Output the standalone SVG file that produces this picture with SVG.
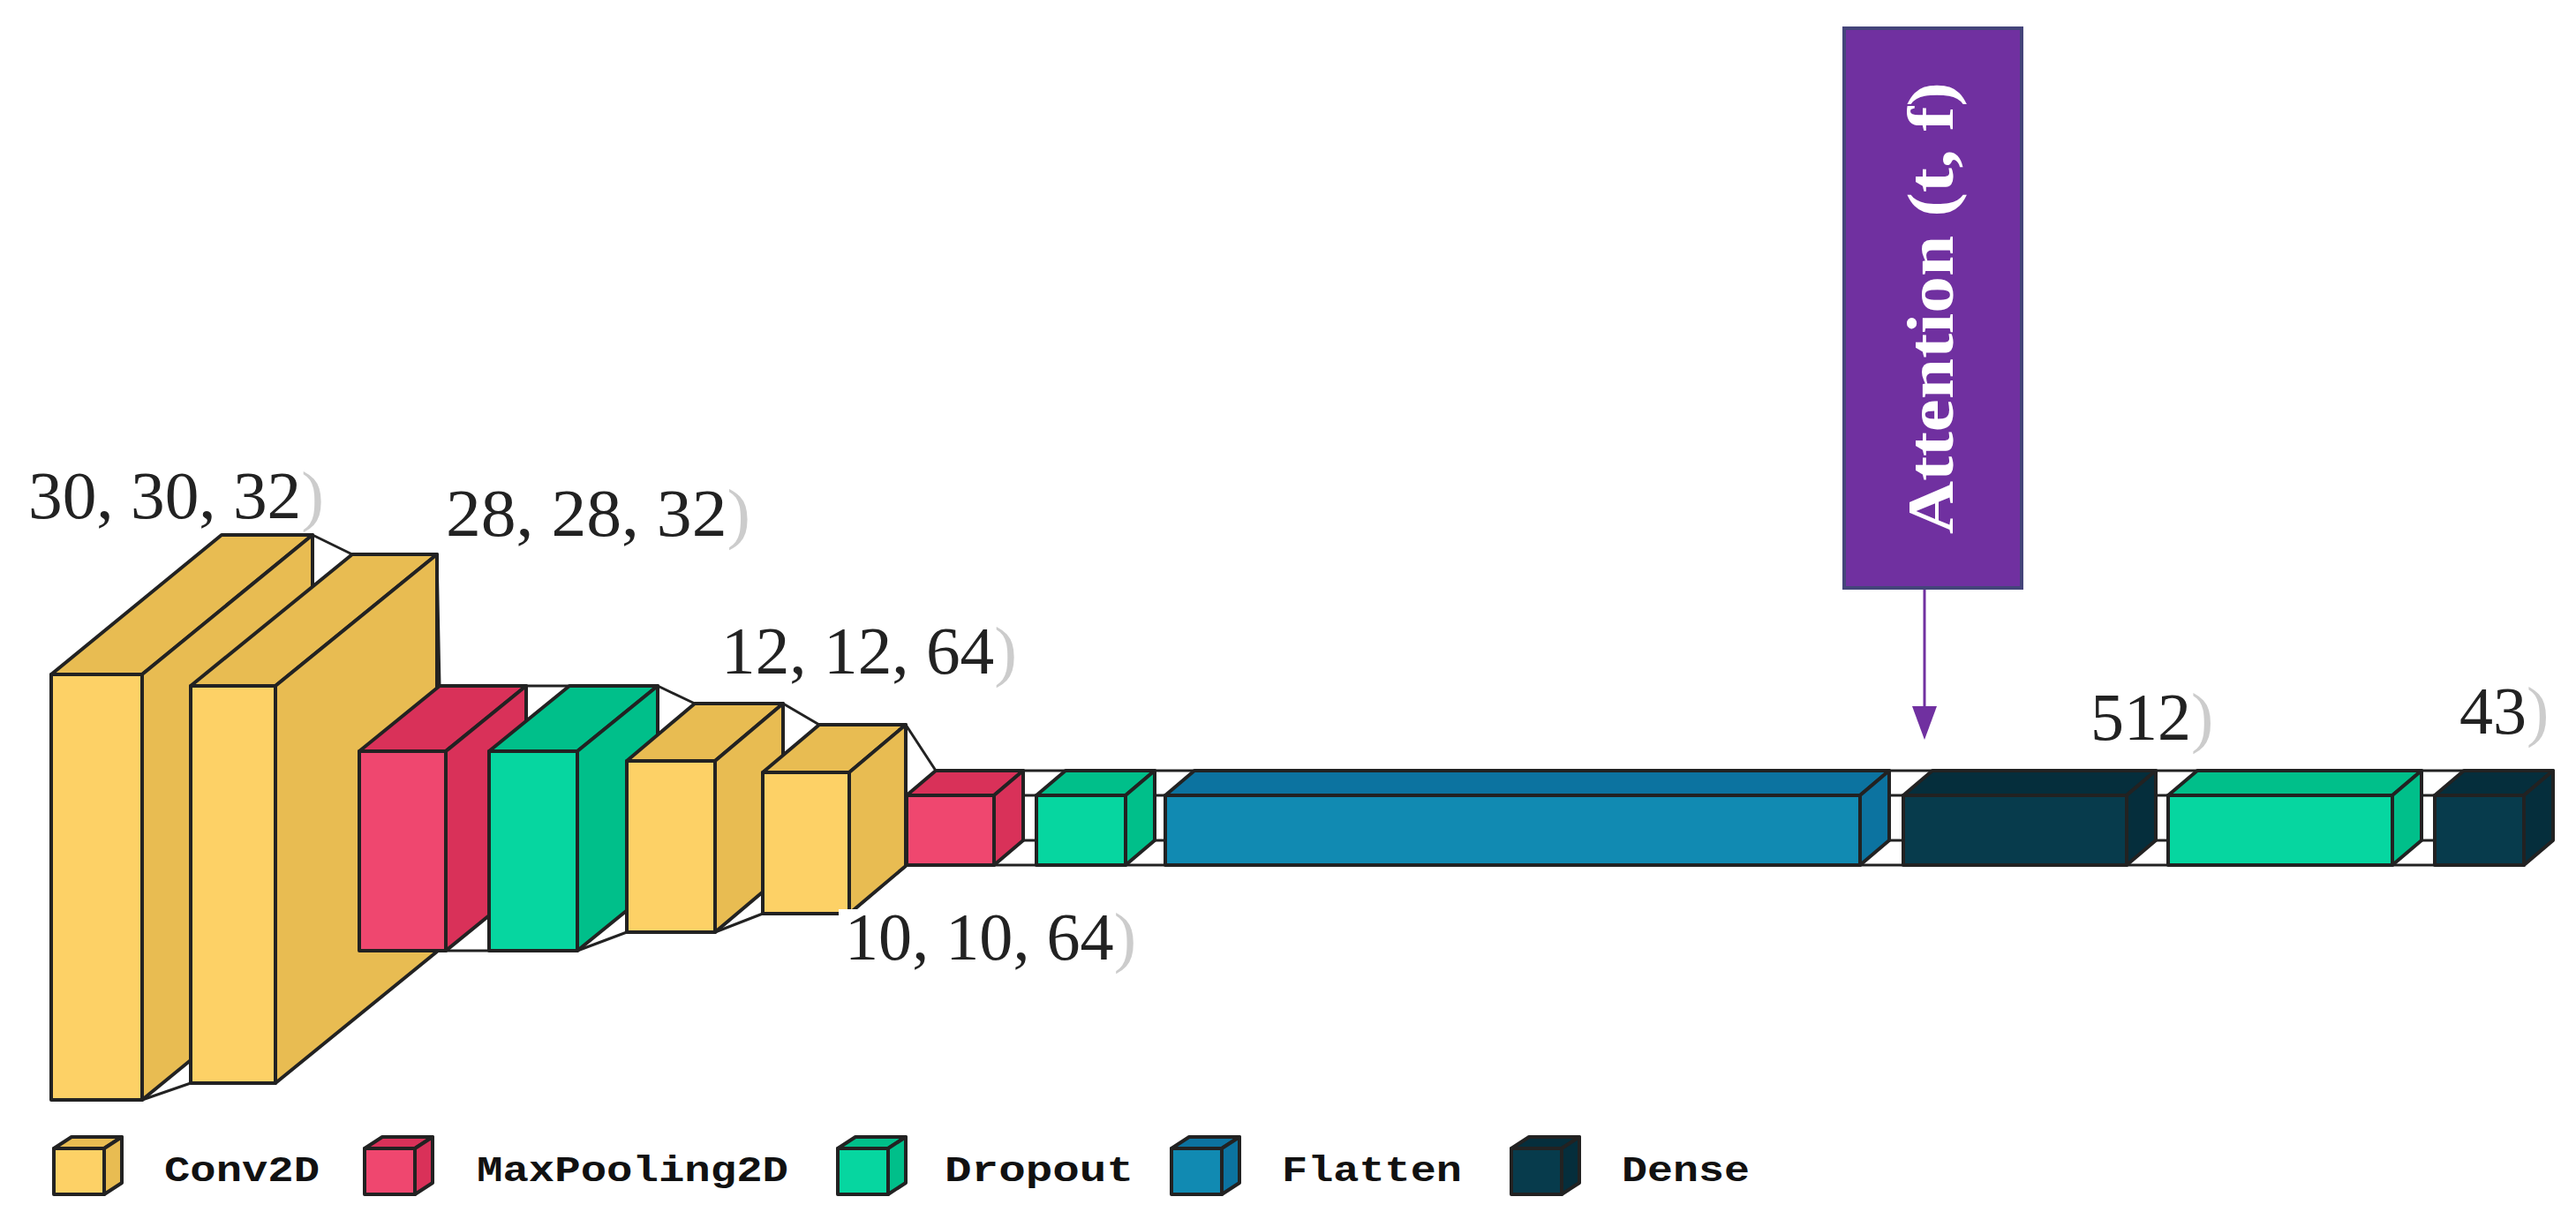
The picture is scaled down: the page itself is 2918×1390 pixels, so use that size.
<svg xmlns="http://www.w3.org/2000/svg" width="2918" height="1390" viewBox="0 0 2918 1390">
<style>
.e{stroke:#222;stroke-width:4;stroke-linejoin:round}
.cf{fill:#FDD166}.cs{fill:#E8BC52}
.mf{fill:#EF476F}.ms{fill:#D93159}
.df{fill:#06D6A0}.ds{fill:#00BF8A}
.ff{fill:#118AB2}.fs{fill:#0C73A0}
.nf{fill:#073B4C}.ns{fill:#052E3C}
.lbl{font-family:"Liberation Serif",serif;font-size:76px;fill:#222}
.lg{font-family:"Liberation Mono",monospace;font-weight:bold;font-size:40px;fill:#111}
.p{fill:#ccc}
</style>
<rect width="2918" height="1390" fill="#fff"/>
<g id="connectors" fill="none" stroke="#222" stroke-width="3">
<path d="M161,764L216,777M354,606L399,628M161,1246L216,1227M354,1088L399,1078"/>
<path d="M312,777L407,851M495,628L498,777M312,1227L407,1077M495,1078L498,1003"/>
<path d="M505,851L554,851M596,777L645,777M505,1077L554,1077M596,1003L645,1003"/>
<path d="M654,851L710,862M745,777L787,797M654,1077L710,1056M745,1003L787,991"/>
<path d="M810,862L864,875M887,797L928,821M810,1056L864,1035M887,991L928,981"/>
<path d="M962,875L1027,901M1026,821L1060,873M962,1035L1027,980M1026,981L1060,952"/>
<path d="M1126,901L1174,901M1159,873L1207,873M1126,980L1174,980M1159,952L1207,952"/>
<path d="M1275,901L1320,901M1308,873L1353,873M1275,980L1320,980M1308,952L1353,952"/>
<path d="M2107,901L2156,901M2140,873L2189,873M2107,980L2156,980M2140,952L2189,952"/>
<path d="M2409,901L2456,901M2442,873L2489,873M2409,980L2456,980M2442,952L2489,952"/>
<path d="M2710,901L2758,901M2743,873L2791,873M2710,980L2758,980M2743,952L2791,952"/>
<path d="M2180,666V805" stroke="#7030A0" stroke-width="3"/>
<polygon points="2166,800 2194,800 2180,838" fill="#7030A0" stroke="none"/>
</g>
<g id="conv1"><rect class="e cf" x="58" y="764" width="103" height="482"/><polygon class="e cs" points="58,764 251,606 354,606 161,764"/><polygon class="e cs" points="161,764 354,606 354,1088 161,1246"/></g>
<g id="conv2"><rect class="e cf" x="216" y="777" width="96" height="450"/><polygon class="e cs" points="216,777 399,628 495,628 312,777"/><polygon class="e cs" points="312,777 495,628 495,1078 312,1227"/></g>
<g id="maxpool1"><rect class="e mf" x="407" y="851" width="98" height="226"/><polygon class="e ms" points="407,851 498,777 596,777 505,851"/><polygon class="e ms" points="505,851 596,777 596,1003 505,1077"/></g>
<g id="dropout1"><rect class="e df" x="554" y="851" width="100" height="226"/><polygon class="e ds" points="554,851 645,777 745,777 654,851"/><polygon class="e ds" points="654,851 745,777 745,1003 654,1077"/></g>
<g id="conv3"><rect class="e cf" x="710" y="862" width="100" height="194"/><polygon class="e cs" points="710,862 787,797 887,797 810,862"/><polygon class="e cs" points="810,862 887,797 887,991 810,1056"/></g>
<g id="conv4"><rect class="e cf" x="864" y="875" width="98" height="160"/><polygon class="e cs" points="864,875 928,821 1026,821 962,875"/><polygon class="e cs" points="962,875 1026,821 1026,981 962,1035"/></g>
<g id="maxpool2"><rect class="e mf" x="1027" y="901" width="99" height="79"/><polygon class="e ms" points="1027,901 1060,873 1159,873 1126,901"/><polygon class="e ms" points="1126,901 1159,873 1159,952 1126,980"/></g>
<g id="dropout2"><rect class="e df" x="1174" y="901" width="101" height="79"/><polygon class="e ds" points="1174,901 1207,873 1308,873 1275,901"/><polygon class="e ds" points="1275,901 1308,873 1308,952 1275,980"/></g>
<g id="flatten"><rect class="e ff" x="1320" y="901" width="787" height="79"/><polygon class="e fs" points="1320,901 1353,873 2140,873 2107,901"/><polygon class="e fs" points="2107,901 2140,873 2140,952 2107,980"/></g>
<g id="dense1"><rect class="e nf" x="2156" y="901" width="253" height="79"/><polygon class="e ns" points="2156,901 2189,873 2442,873 2409,901"/><polygon class="e ns" points="2409,901 2442,873 2442,952 2409,980"/></g>
<g id="dropout3"><rect class="e df" x="2456" y="901" width="254" height="79"/><polygon class="e ds" points="2456,901 2489,873 2743,873 2710,901"/><polygon class="e ds" points="2710,901 2743,873 2743,952 2710,980"/></g>
<g id="dense2"><rect class="e nf" x="2758" y="901" width="101" height="79"/><polygon class="e ns" points="2758,901 2791,873 2892,873 2859,901"/><polygon class="e ns" points="2859,901 2892,873 2892,952 2859,980"/></g>
<g id="attention">
<rect x="2089" y="32" width="201" height="634" fill="#7030A0" stroke="#44447A" stroke-width="4"/>
<text transform="translate(2212,349) rotate(-90)" text-anchor="middle" font-family="Liberation Serif,serif" font-weight="bold" font-size="74" fill="#fff" textLength="512" lengthAdjust="spacingAndGlyphs">Attention (t, f)</text>
</g>
<g id="labels">
<rect x="950" y="1030" width="340" height="70" fill="#fff"/>
<text class="lbl" x="32" y="587" textLength="335" lengthAdjust="spacingAndGlyphs">30, 30, 32<tspan class="p">)</tspan></text>
<text class="lbl" x="505" y="607" textLength="345" lengthAdjust="spacingAndGlyphs">28, 28, 32<tspan class="p">)</tspan></text>
<text class="lbl" x="817" y="763" textLength="335" lengthAdjust="spacingAndGlyphs">12, 12, 64<tspan class="p">)</tspan></text>
<text class="lbl" x="957" y="1087" textLength="330" lengthAdjust="spacingAndGlyphs">10, 10, 64<tspan class="p">)</tspan></text>
<text class="lbl" x="2368" y="838">512<tspan class="p">)</tspan></text>
<text class="lbl" x="2786" y="831">43<tspan class="p">)</tspan></text>
</g>
<g id="legend">
<g><rect class="e cf" x="61" y="1301" width="57" height="52" stroke-width="3"/><polygon class="e cs" stroke-width="3" points="61,1301 81,1288 138,1288 118,1301"/><polygon class="e cs" stroke-width="3" points="118,1301 138,1288 138,1340 118,1353"/><text class="lg" x="186" y="1338" textLength="176" lengthAdjust="spacingAndGlyphs">Conv2D</text></g>
<g><rect class="e mf" x="413" y="1301" width="57" height="52" stroke-width="3"/><polygon class="e ms" stroke-width="3" points="413,1301 433,1288 490,1288 470,1301"/><polygon class="e ms" stroke-width="3" points="470,1301 490,1288 490,1340 470,1353"/><text class="lg" x="540" y="1338" textLength="353" lengthAdjust="spacingAndGlyphs">MaxPooling2D</text></g>
<g><rect class="e df" x="949" y="1301" width="57" height="52" stroke-width="3"/><polygon class="e ds" stroke-width="3" points="949,1301 969,1288 1026,1288 1006,1301"/><polygon class="e ds" stroke-width="3" points="1006,1301 1026,1288 1026,1340 1006,1353"/><text class="lg" x="1070" y="1338" textLength="214" lengthAdjust="spacingAndGlyphs">Dropout</text></g>
<g><rect class="e ff" x="1327" y="1301" width="57" height="52" stroke-width="3"/><polygon class="e fs" stroke-width="3" points="1327,1301 1347,1288 1404,1288 1384,1301"/><polygon class="e fs" stroke-width="3" points="1384,1301 1404,1288 1404,1340 1384,1353"/><text class="lg" x="1452" y="1338" textLength="204" lengthAdjust="spacingAndGlyphs">Flatten</text></g>
<g><rect class="e nf" x="1712" y="1301" width="57" height="52" stroke-width="3"/><polygon class="e ns" stroke-width="3" points="1712,1301 1732,1288 1789,1288 1769,1301"/><polygon class="e ns" stroke-width="3" points="1769,1301 1789,1288 1789,1340 1769,1353"/><text class="lg" x="1837" y="1338" textLength="145" lengthAdjust="spacingAndGlyphs">Dense</text></g>
</g>
</svg>
